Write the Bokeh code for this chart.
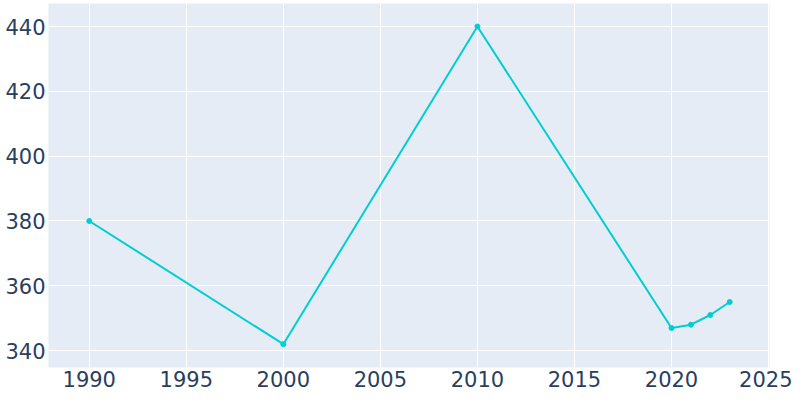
from bokeh.plotting import figure
from bokeh.models import Range1d, FixedTicker
from bokeh.embed import file_html
from bokeh.resources import INLINE

years = [1990, 2000, 2010, 2020, 2021, 2022, 2023]
population = [380, 342, 440, 347, 348, 351, 355]
x_ticks = [1990, 1995, 2000, 2005, 2010, 2015, 2020, 2025]
y_ticks = [340, 360, 380, 400, 420, 440]

line_color = "#00CED1"
text_color = "#2a3f5f"

p = figure(width=792, height=392, output_backend="svg", toolbar_location=None,
           x_range=Range1d(1987.9, 2025.05), y_range=Range1d(334.8, 447.1),
           min_border_left=48, min_border_right=23, min_border_top=3, min_border_bottom=25)
p.background_fill_color = "#E5ECF6"
p.border_fill_color = "white"
p.outline_line_color = None

p.line(years, population, line_color=line_color, line_width=2)
p.scatter(years, population, size=5, fill_color=line_color, line_color=line_color)

for ax in (p.xaxis[0], p.yaxis[0]):
    ax.axis_line_color = None
    ax.major_tick_line_color = None
    ax.minor_tick_line_color = None
    ax.major_tick_out = 0
    ax.major_tick_in = 0
    ax.minor_tick_out = 0
    ax.minor_tick_in = 0
    ax.major_label_text_font = "DejaVu Sans"
    ax.major_label_text_font_size = "21px"
    ax.major_label_text_color = text_color
p.xaxis[0].ticker = FixedTicker(ticks=x_ticks)
p.yaxis[0].ticker = FixedTicker(ticks=y_ticks)
p.xaxis[0].major_label_standoff = 3
p.yaxis[0].major_label_standoff = 3

p.xgrid[0].grid_line_color = "white"
p.ygrid[0].grid_line_color = "white"
p.xgrid[0].grid_line_width = 1
p.ygrid[0].grid_line_width = 1

open("out.html", "w").write(file_html(p, INLINE))
